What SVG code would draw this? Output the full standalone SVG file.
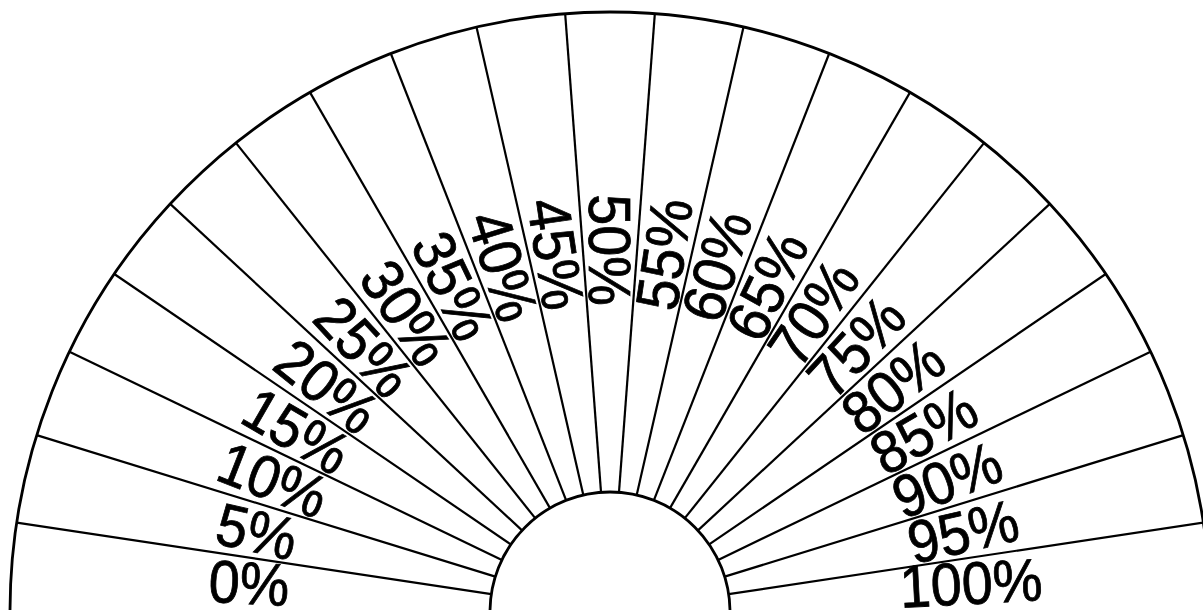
<svg xmlns="http://www.w3.org/2000/svg" width="1203" height="610" viewBox="0 0 1203 610">
<style>
.ln{stroke:#000;stroke-width:2.2;fill:none;stroke-linecap:butt}
.arc{stroke:#000;stroke-width:2.8;fill:none}
.lb{font-family:"Liberation Sans",Arial,sans-serif;font-size:60px;fill:#000;stroke:#000;stroke-width:0.8;text-anchor:middle}
</style>
<rect x="0" y="0" width="1203" height="610" fill="#fff"/>
<g id="connectors">
<path class="arc" d="M10,612 A600,600 0 0 1 1210,612"/>
<path class="arc" d="M490,612 A120,120 0 0 1 730,612"/>
<line class="ln" x1="491.34" y1="594.12" x2="16.70" y2="522.58"/>
<line class="ln" x1="495.33" y1="576.63" x2="36.66" y2="435.14"/>
<line class="ln" x1="501.88" y1="559.93" x2="69.42" y2="351.67"/>
<line class="ln" x1="510.85" y1="544.40" x2="114.26" y2="274.01"/>
<line class="ln" x1="522.03" y1="530.38" x2="170.17" y2="203.90"/>
<line class="ln" x1="535.18" y1="518.18" x2="235.91" y2="142.90"/>
<line class="ln" x1="550" y1="508.08" x2="310" y2="92.38"/>
<line class="ln" x1="566.16" y1="500.30" x2="390.80" y2="53.48"/>
<line class="ln" x1="583.30" y1="495.01" x2="476.49" y2="27.04"/>
<line class="ln" x1="601.03" y1="492.34" x2="565.16" y2="13.68"/>
<line class="ln" x1="618.97" y1="492.34" x2="654.84" y2="13.68"/>
<line class="ln" x1="636.70" y1="495.01" x2="743.51" y2="27.04"/>
<line class="ln" x1="653.84" y1="500.30" x2="829.20" y2="53.48"/>
<line class="ln" x1="670" y1="508.08" x2="910" y2="92.38"/>
<line class="ln" x1="684.82" y1="518.18" x2="984.09" y2="142.90"/>
<line class="ln" x1="697.97" y1="530.38" x2="1049.83" y2="203.90"/>
<line class="ln" x1="709.15" y1="544.40" x2="1105.74" y2="274.01"/>
<line class="ln" x1="718.12" y1="559.93" x2="1150.58" y2="351.67"/>
<line class="ln" x1="724.67" y1="576.63" x2="1183.34" y2="435.14"/>
<line class="ln" x1="728.66" y1="594.12" x2="1203.30" y2="522.58"/>
</g>
<g id="label-0" transform="translate(249.01,583) rotate(3) scale(0.93,1)"><text class="lb" x="0" y="21">0%</text></g>
<g id="label-5" transform="translate(257.08,531.45) rotate(12.86) scale(0.93,1)"><text class="lb" x="0" y="21">5%</text></g>
<g id="label-10" transform="translate(273.03,479.75) rotate(21.43) scale(0.93,1)"><text class="lb" x="0" y="21">10%</text></g>
<g id="label-15" transform="translate(296.50,431) rotate(30) scale(0.93,1)"><text class="lb" x="0" y="21">15%</text></g>
<g id="label-20" transform="translate(326.98,386.30) rotate(38.57) scale(0.93,1)"><text class="lb" x="0" y="21">20%</text></g>
<g id="label-25" transform="translate(363.78,346.64) rotate(47.14) scale(0.93,1)"><text class="lb" x="0" y="21">25%</text></g>
<g id="label-30" transform="translate(406.08,312.90) rotate(55.71) scale(0.93,1)"><text class="lb" x="0" y="21">30%</text></g>
<g id="label-35" transform="translate(452.94,285.85) rotate(64.29) scale(0.93,1)"><text class="lb" x="0" y="21">35%</text></g>
<g id="label-40" transform="translate(503.30,266.08) rotate(72.86) scale(0.93,1)"><text class="lb" x="0" y="21">40%</text></g>
<g id="label-45" transform="translate(556.05,254.04) rotate(81.43) scale(0.93,1)"><text class="lb" x="0" y="21">45%</text></g>
<g id="label-50" transform="translate(610,250) rotate(90) scale(0.93,1)"><text class="lb" x="0" y="21">50%</text></g>
<g id="label-55" transform="translate(663.95,254.04) rotate(-81.43) scale(0.93,1)"><text class="lb" x="0" y="21">55%</text></g>
<g id="label-60" transform="translate(716.70,266.08) rotate(-72.86) scale(0.93,1)"><text class="lb" x="0" y="21">60%</text></g>
<g id="label-65" transform="translate(767.06,285.85) rotate(-64.29) scale(0.93,1)"><text class="lb" x="0" y="21">65%</text></g>
<g id="label-70" transform="translate(813.50,312.90) rotate(-55.71) scale(0.93,1)"><text class="lb" x="0" y="21">70%</text></g>
<g id="label-75" transform="translate(856.22,346.64) rotate(-47.14) scale(0.93,1)"><text class="lb" x="0" y="21">75%</text></g>
<g id="label-80" transform="translate(893.02,386.30) rotate(-38.57) scale(0.93,1)"><text class="lb" x="0" y="21">80%</text></g>
<g id="label-85" transform="translate(923.50,431) rotate(-30) scale(0.93,1)"><text class="lb" x="0" y="21">85%</text></g>
<g id="label-90" transform="translate(946.97,479.75) rotate(-21.43) scale(0.93,1)"><text class="lb" x="0" y="21">90%</text></g>
<g id="label-95" transform="translate(962.92,531.45) rotate(-12.86) scale(0.93,1)"><text class="lb" x="0" y="21">95%</text></g>
<g id="label-100" transform="translate(970.99,583) rotate(-3) scale(0.93,1)"><text class="lb" x="0" y="21">100%</text></g>
</svg>
